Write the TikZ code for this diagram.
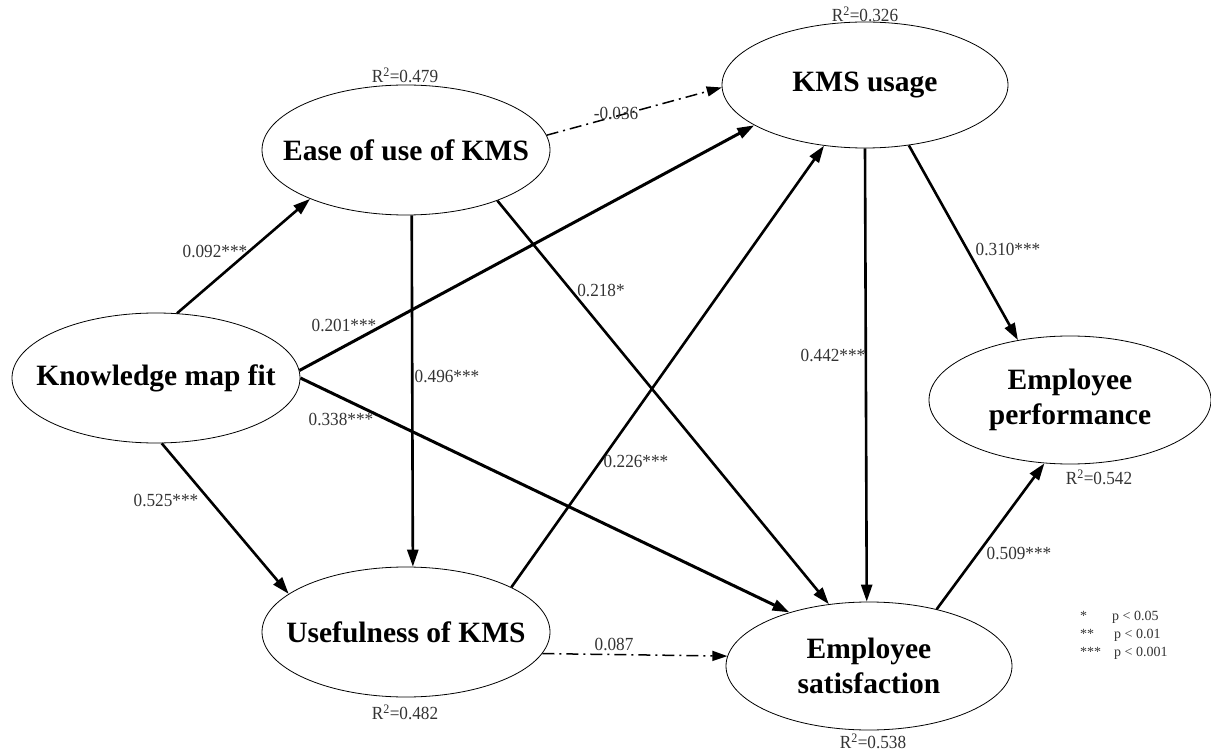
\documentclass[tikz,border=0pt]{standalone}
\usepackage{fontspec}
\setmainfont{Liberation Serif}
\usetikzlibrary{shapes.geometric,arrows.meta}
\begin{document}
\begin{tikzpicture}[x=1pt,y=-1pt,
  construct/.style={ellipse,draw,line width=0.8pt,inner sep=0pt,minimum width=288pt,minimum height=130pt},
  ctext/.style={font=\fontsize{29.5}{35}\selectfont\bfseries,align=center,inner sep=0pt},
  rsq/.style={font=\fontsize{18.5}{20}\selectfont,text=black!80,inner sep=0pt,xscale=0.93},
  coef/.style={font=\fontsize{18.5}{20}\selectfont,text=black!80,inner sep=0pt,xscale=0.93},
  legend/.style={font=\fontsize{14}{16}\selectfont,text=black!80,inner sep=0pt,anchor=base west},
  path/.style={line width=2.6pt,-{Triangle[length=17pt,width=11pt]}},
  strongpath/.style={line width=3pt,-{Triangle[length=17pt,width=11pt]}},
  nspath/.style={line width=1.5pt,dash pattern=on 12pt off 5pt on 2pt off 5pt,-{Triangle[length=15pt,width=10pt]}}
]
\useasboundingbox (0,0) rectangle (1211,751);

% constructs
\node[construct] (kmf) at (156,378) {};
\node[ctext] (kmft) at (kmf) {Knowledge map fit};
\node[construct] (ease) at (406,150) {};
\node[ctext] (easet) at (ease) {Ease of use of KMS};
\node[construct] (use) at (406,632) {};
\node[ctext] (uset) at (use) {Usefulness of KMS};
\node[construct,minimum width=286pt,minimum height=126pt] (kms) at (865,85) {};
\node[ctext] (kmst) at (kms) {KMS usage};
\node[construct,minimum width=286pt,minimum height=128pt] (es) at (869,666) {};
\node[ctext] (est) at (es) {Employee\\satisfaction};
\node[construct,minimum width=282pt,minimum height=128pt] (ep) at (1070,400) {};
\node[ctext] (ept) at (ep) {Employee\\performance};

% R-squared
\node[rsq] (r1) at (405,75) {R\textsuperscript{2}=0.479};
\node[rsq] (r2) at (865,14) {R\textsuperscript{2}=0.326};
\node[rsq] (r3) at (1099,477) {R\textsuperscript{2}=0.542};
\node[rsq] (r4) at (405,712) {R\textsuperscript{2}=0.482};
\node[rsq] (r5) at (873,741) {R\textsuperscript{2}=0.538};

% paths
\draw[path] (kmf.72) -- (ease.207);
\draw[path] (kmf.275) -- (use.162);
\draw[strongpath] (kmf.3) -- (kms.200);
\draw[strongpath] (kmf.0) -- (es.146);
\draw[nspath] (ease.6) -- (kms.181);
\draw[path] (ease.275.3) -- (use.84.7);
\draw[path] (ease.331.5) -- (es.123.7);
\draw[path] (use.23.8) -- (kms.236);
\draw[nspath] (use.351) -- (es.176.4);
\draw[path] (kms.270) -- (es.92.7);
\draw[path] (kms.306.3) -- (ep.131);
\draw[path] (es.40) -- (ep.248);

% coefficients
\node[coef] (c1) at (215,251) {0.092***};
\node[coef] (c2) at (344,325) {0.201***};
\node[coef] (c3) at (601,290) {0.218*};
\node[coef] (c4) at (447,376) {0.496***};
\node[coef] (c5) at (341,419) {0.338***};
\node[coef] (c6) at (636,461) {0.226***};
\node[coef] (c7) at (166,500) {0.525***};
\node[coef] (c8) at (833,355) {0.442***};
\node[coef] (c9) at (1008,249) {0.310***};
\node[coef] (c10) at (1019,553) {0.509***};
\node[coef] (c11) at (614,644) {0.087};
\node[coef] (c12) at (616,113) {-0.036};

% legend
\node[legend] (s1) at (1080,620) {*};
\node[legend] (p1) at (1112,620) {p < 0.05};
\node[legend] (s2) at (1080,638) {**};
\node[legend] (p2) at (1114,638) {p < 0.01};
\node[legend] (s3) at (1080,656) {***};
\node[legend] (p3) at (1114,656) {p < 0.001};
\end{tikzpicture}
\end{document}
